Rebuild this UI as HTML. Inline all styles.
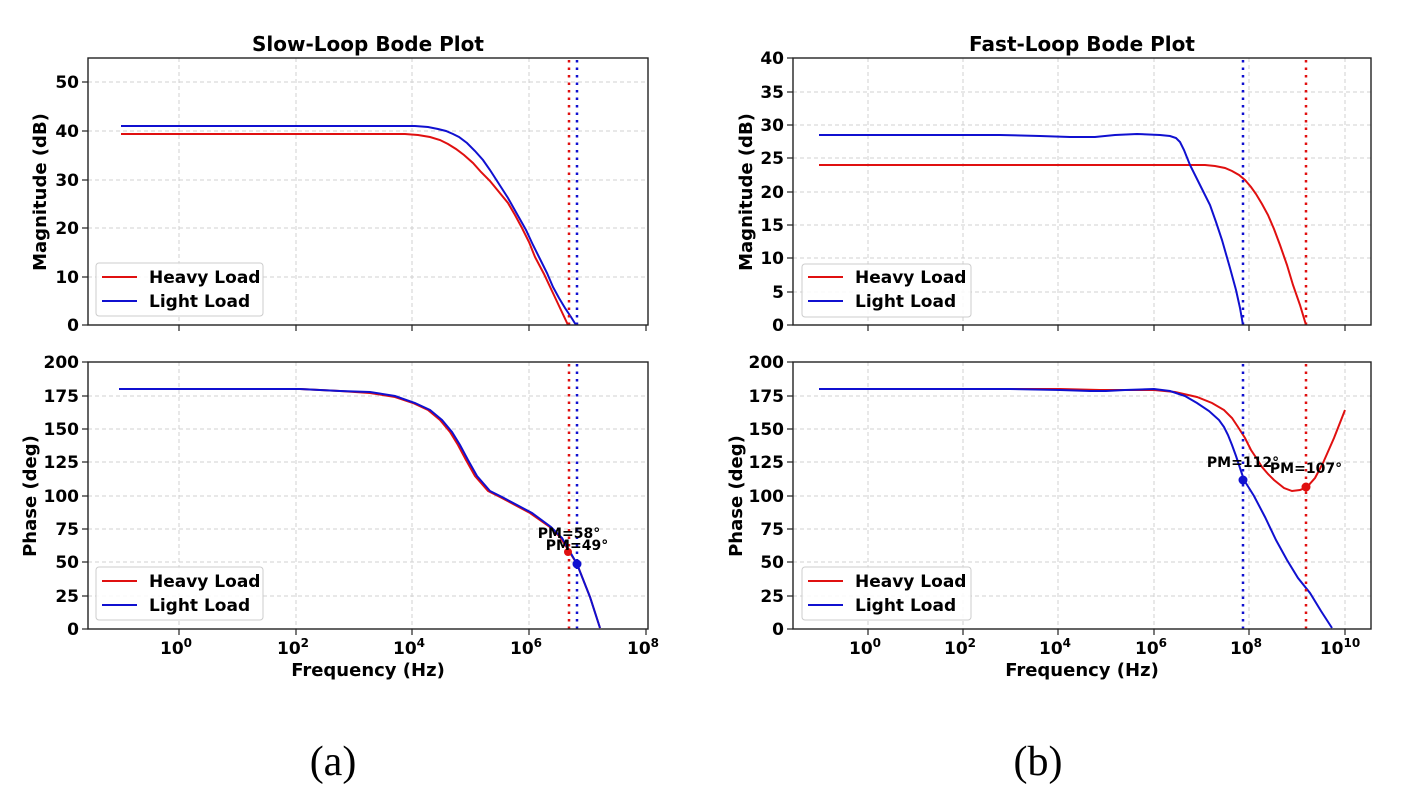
<!DOCTYPE html>
<html><head><meta charset="utf-8"><style>
body{margin:0;background:#fff}
svg{display:block}
text{font-family:"DejaVu Sans","Liberation Sans",sans-serif;font-weight:bold;fill:#000}
.g{stroke:#d0d0d0;stroke-width:1;stroke-dasharray:4,3}
.ax{fill:none;stroke:#222;stroke-width:1.4}
.t{font-size:17px}
.lab{font-size:18px}
</style></head><body>
<svg width="1407" height="805" viewBox="0 0 1407 805" xmlns="http://www.w3.org/2000/svg">
<!-- LEFT TOP -->
<g>
<line class="g" x1="179" y1="58" x2="179" y2="325"/><line class="g" x1="296" y1="58" x2="296" y2="325"/><line class="g" x1="412" y1="58" x2="412" y2="325"/><line class="g" x1="529" y1="58" x2="529" y2="325"/>
<line class="g" x1="88" y1="82" x2="648" y2="82"/><line class="g" x1="88" y1="131" x2="648" y2="131"/><line class="g" x1="88" y1="180" x2="648" y2="180"/><line class="g" x1="88" y1="228" x2="648" y2="228"/><line class="g" x1="88" y1="277" x2="648" y2="277"/>
<polyline fill="none" stroke="#e01010" stroke-width="2" points="121,134 405,134 418,135 430,137 440,140 448,144 456,149 464,155 473,163 481,172 490,181 499,192 508,203 515,215 522,228 529,242 535,257 544,274 552,291 560,308 568,325"/>
<polyline fill="none" stroke="#1010d0" stroke-width="2" points="121,126 415,126 428,127 438,129 446,131 453,134 459,137 467,143 475,151 483,160 490,170 499,184 508,198 517,214 526,230 533,245 540,259 547,273 553,287 559,298 565,308 571,317 576,325"/>
<line x1="569" y1="60" x2="569" y2="325" stroke="#e01010" stroke-width="2.5" stroke-dasharray="2.5,5"/>
<line x1="577" y1="60" x2="577" y2="325" stroke="#1010d0" stroke-width="2.5" stroke-dasharray="2.5,5"/>
<rect class="ax" x="88" y="58" width="560" height="267"/>
<g stroke="#222" stroke-width="1.2"><line x1="179" y1="325" x2="179" y2="331"/><line x1="296" y1="325" x2="296" y2="331"/><line x1="412" y1="325" x2="412" y2="331"/><line x1="529" y1="325" x2="529" y2="331"/><line x1="646" y1="325" x2="646" y2="331"/>
<line x1="82" y1="325" x2="88" y2="325"/><line x1="82" y1="277" x2="88" y2="277"/><line x1="82" y1="228" x2="88" y2="228"/><line x1="82" y1="180" x2="88" y2="180"/><line x1="82" y1="131" x2="88" y2="131"/><line x1="82" y1="82" x2="88" y2="82"/></g>
<g class="t" text-anchor="end"><text x="79" y="331">0</text><text x="79" y="283">10</text><text x="79" y="234">20</text><text x="79" y="186">30</text><text x="79" y="137">40</text><text x="79" y="88">50</text></g>
<text class="lab" transform="translate(46,192) rotate(-90)" text-anchor="middle">Magnitude (dB)</text>
<text x="368" y="51" text-anchor="middle" font-size="20">Slow-Loop Bode Plot</text>
<rect x="96" y="263" width="167" height="53" rx="3" fill="#fff" fill-opacity="0.85" stroke="#ccc"/>
<line x1="102" y1="277" x2="137" y2="277" stroke="#e01010" stroke-width="2"/><line x1="102" y1="301" x2="137" y2="301" stroke="#1010d0" stroke-width="2"/>
<text class="t" x="149" y="283">Heavy Load</text><text class="t" x="149" y="307">Light Load</text>
</g>
<!-- LEFT BOTTOM -->
<g>
<line class="g" x1="179" y1="362" x2="179" y2="629"/><line class="g" x1="296" y1="362" x2="296" y2="629"/><line class="g" x1="412" y1="362" x2="412" y2="629"/><line class="g" x1="529" y1="362" x2="529" y2="629"/>
<line class="g" x1="88" y1="396" x2="648" y2="396"/><line class="g" x1="88" y1="429" x2="648" y2="429"/><line class="g" x1="88" y1="462" x2="648" y2="462"/><line class="g" x1="88" y1="496" x2="648" y2="496"/><line class="g" x1="88" y1="529" x2="648" y2="529"/><line class="g" x1="88" y1="562" x2="648" y2="562"/><line class="g" x1="88" y1="596" x2="648" y2="596"/>
<polyline fill="none" stroke="#e01010" stroke-width="2" points="119,389 300,389 340,391 370,393 395,397 413,403 428,410 440,420 450,432 458,445 466,460 475,476 488,491 500,497 515,505 530,513 550,527 560,537 567,548 577,564 590,597 600,628"/>
<polyline fill="none" stroke="#1010d0" stroke-width="2" points="119,389 300,389 340,391 370,392 395,396 415,403 430,410 442,420 452,432 460,445 468,460 477,476 490,491 502,497 517,505 532,513 551,527 562,538 569,550 577,564 590,597 600,628"/>
<line x1="569" y1="364" x2="569" y2="629" stroke="#e01010" stroke-width="2.5" stroke-dasharray="2.5,5"/>
<line x1="577" y1="364" x2="577" y2="629" stroke="#1010d0" stroke-width="2.5" stroke-dasharray="2.5,5"/>
<circle cx="568" cy="552" r="4" fill="#e01010"/><circle cx="577" cy="564" r="4.5" fill="#1010d0"/>
<text x="569" y="538" text-anchor="middle" font-size="14">PM=58°</text>
<text x="577" y="550" text-anchor="middle" font-size="14">PM=49°</text>
<rect class="ax" x="88" y="362" width="560" height="267"/>
<g stroke="#222" stroke-width="1.2"><line x1="179" y1="629" x2="179" y2="635"/><line x1="296" y1="629" x2="296" y2="635"/><line x1="412" y1="629" x2="412" y2="635"/><line x1="529" y1="629" x2="529" y2="635"/><line x1="646" y1="629" x2="646" y2="635"/>
<line x1="82" y1="629" x2="88" y2="629"/><line x1="82" y1="596" x2="88" y2="596"/><line x1="82" y1="562" x2="88" y2="562"/><line x1="82" y1="529" x2="88" y2="529"/><line x1="82" y1="496" x2="88" y2="496"/><line x1="82" y1="462" x2="88" y2="462"/><line x1="82" y1="429" x2="88" y2="429"/><line x1="82" y1="396" x2="88" y2="396"/><line x1="82" y1="362" x2="88" y2="362"/></g>
<g class="t" text-anchor="end"><text x="79" y="635">0</text><text x="79" y="602">25</text><text x="79" y="568">50</text><text x="79" y="535">75</text><text x="79" y="502">100</text><text x="79" y="468">125</text><text x="79" y="435">150</text><text x="79" y="402">175</text><text x="79" y="368">200</text></g>
<g class="t" text-anchor="middle"><text x="176" y="654">10<tspan font-size="12" dy="-7">0</tspan></text><text x="293" y="654">10<tspan font-size="12" dy="-7">2</tspan></text><text x="409" y="654">10<tspan font-size="12" dy="-7">4</tspan></text><text x="526" y="654">10<tspan font-size="12" dy="-7">6</tspan></text><text x="643" y="654">10<tspan font-size="12" dy="-7">8</tspan></text></g>
<text class="lab" x="368" y="676" text-anchor="middle">Frequency (Hz)</text>
<text class="lab" transform="translate(36,496) rotate(-90)" text-anchor="middle">Phase (deg)</text>
<rect x="96" y="567" width="167" height="53" rx="3" fill="#fff" fill-opacity="0.85" stroke="#ccc"/>
<line x1="102" y1="581" x2="137" y2="581" stroke="#e01010" stroke-width="2"/><line x1="102" y1="605" x2="137" y2="605" stroke="#1010d0" stroke-width="2"/>
<text class="t" x="149" y="587">Heavy Load</text><text class="t" x="149" y="611">Light Load</text>
</g>
<!-- RIGHT TOP -->
<g>
<line class="g" x1="868" y1="58" x2="868" y2="325"/><line class="g" x1="963" y1="58" x2="963" y2="325"/><line class="g" x1="1058" y1="58" x2="1058" y2="325"/><line class="g" x1="1154" y1="58" x2="1154" y2="325"/><line class="g" x1="1249" y1="58" x2="1249" y2="325"/><line class="g" x1="1345" y1="58" x2="1345" y2="325"/>
<line class="g" x1="793" y1="92" x2="1371" y2="92"/><line class="g" x1="793" y1="125" x2="1371" y2="125"/><line class="g" x1="793" y1="158" x2="1371" y2="158"/><line class="g" x1="793" y1="192" x2="1371" y2="192"/><line class="g" x1="793" y1="225" x2="1371" y2="225"/><line class="g" x1="793" y1="258" x2="1371" y2="258"/><line class="g" x1="793" y1="292" x2="1371" y2="292"/>
<polyline fill="none" stroke="#e01010" stroke-width="2" points="819,165 1190,165 1205,165 1215,166 1225,168 1232,171 1239,175 1245,180 1251,187 1256,194 1262,204 1268,215 1274,229 1280,245 1287,265 1293,285 1300,305 1306,325"/>
<polyline fill="none" stroke="#1010d0" stroke-width="2" points="819,135 1000,135 1040,136 1070,137 1095,137 1115,135 1137,134 1160,135 1170,136 1176,138 1180,142 1184,150 1190,165 1200,185 1210,205 1216,222 1222,240 1230,268 1236,290 1240,308 1243,325"/>
<line x1="1243" y1="60" x2="1243" y2="325" stroke="#1010d0" stroke-width="2.5" stroke-dasharray="2.5,5"/>
<line x1="1306" y1="60" x2="1306" y2="325" stroke="#e01010" stroke-width="2.5" stroke-dasharray="2.5,5"/>
<rect class="ax" x="793" y="58" width="578" height="267"/>
<g stroke="#222" stroke-width="1.2"><line x1="868" y1="325" x2="868" y2="331"/><line x1="963" y1="325" x2="963" y2="331"/><line x1="1058" y1="325" x2="1058" y2="331"/><line x1="1154" y1="325" x2="1154" y2="331"/><line x1="1249" y1="325" x2="1249" y2="331"/><line x1="1345" y1="325" x2="1345" y2="331"/>
<line x1="787" y1="325" x2="793" y2="325"/><line x1="787" y1="292" x2="793" y2="292"/><line x1="787" y1="258" x2="793" y2="258"/><line x1="787" y1="225" x2="793" y2="225"/><line x1="787" y1="192" x2="793" y2="192"/><line x1="787" y1="158" x2="793" y2="158"/><line x1="787" y1="125" x2="793" y2="125"/><line x1="787" y1="92" x2="793" y2="92"/><line x1="787" y1="58" x2="793" y2="58"/></g>
<g class="t" text-anchor="end"><text x="784" y="331">0</text><text x="784" y="298">5</text><text x="784" y="264">10</text><text x="784" y="231">15</text><text x="784" y="198">20</text><text x="784" y="164">25</text><text x="784" y="131">30</text><text x="784" y="98">35</text><text x="784" y="64">40</text></g>
<text class="lab" transform="translate(752,192) rotate(-90)" text-anchor="middle">Magnitude (dB)</text>
<text x="1082" y="51" text-anchor="middle" font-size="20">Fast-Loop Bode Plot</text>
<rect x="802" y="264" width="169" height="53" rx="3" fill="#fff" fill-opacity="0.85" stroke="#ccc"/>
<line x1="808" y1="277" x2="843" y2="277" stroke="#e01010" stroke-width="2"/><line x1="808" y1="301" x2="843" y2="301" stroke="#1010d0" stroke-width="2"/>
<text class="t" x="855" y="283">Heavy Load</text><text class="t" x="855" y="307">Light Load</text>
</g>
<!-- RIGHT BOTTOM -->
<g>
<line class="g" x1="868" y1="362" x2="868" y2="629"/><line class="g" x1="963" y1="362" x2="963" y2="629"/><line class="g" x1="1058" y1="362" x2="1058" y2="629"/><line class="g" x1="1154" y1="362" x2="1154" y2="629"/><line class="g" x1="1249" y1="362" x2="1249" y2="629"/><line class="g" x1="1345" y1="362" x2="1345" y2="629"/>
<line class="g" x1="793" y1="396" x2="1371" y2="396"/><line class="g" x1="793" y1="429" x2="1371" y2="429"/><line class="g" x1="793" y1="462" x2="1371" y2="462"/><line class="g" x1="793" y1="496" x2="1371" y2="496"/><line class="g" x1="793" y1="529" x2="1371" y2="529"/><line class="g" x1="793" y1="562" x2="1371" y2="562"/><line class="g" x1="793" y1="596" x2="1371" y2="596"/>
<polyline fill="none" stroke="#e01010" stroke-width="2" points="819,389 1060,389 1100,390 1154,390 1175,392 1197,397 1212,403 1224,410 1232,418 1238,427 1245,438 1251,450 1257,459 1262,467 1268,474 1274,480 1284,488 1292,491 1300,490 1307,487 1315,478 1323,463 1334,438 1345,410"/>
<polyline fill="none" stroke="#1010d0" stroke-width="2" points="819,389 1010,389 1060,390 1090,391 1106,391 1125,390 1154,389 1170,391 1185,396 1197,403 1209,411 1219,420 1224,427 1228,435 1232,445 1236,456 1240,468 1244,480 1254,496 1265,517 1276,540 1287,560 1298,578 1310,593 1321,611 1332,628"/>
<line x1="1243" y1="364" x2="1243" y2="629" stroke="#1010d0" stroke-width="2.5" stroke-dasharray="2.5,5"/>
<line x1="1306" y1="364" x2="1306" y2="629" stroke="#e01010" stroke-width="2.5" stroke-dasharray="2.5,5"/>
<circle cx="1243" cy="480" r="4.5" fill="#1010d0"/><circle cx="1306" cy="487" r="4.5" fill="#e01010"/>
<text x="1243" y="467" text-anchor="middle" font-size="14">PM=112°</text>
<text x="1306" y="473" text-anchor="middle" font-size="14">PM=107°</text>
<rect class="ax" x="793" y="362" width="578" height="267"/>
<g stroke="#222" stroke-width="1.2"><line x1="868" y1="629" x2="868" y2="635"/><line x1="963" y1="629" x2="963" y2="635"/><line x1="1058" y1="629" x2="1058" y2="635"/><line x1="1154" y1="629" x2="1154" y2="635"/><line x1="1249" y1="629" x2="1249" y2="635"/><line x1="1345" y1="629" x2="1345" y2="635"/>
<line x1="787" y1="629" x2="793" y2="629"/><line x1="787" y1="596" x2="793" y2="596"/><line x1="787" y1="562" x2="793" y2="562"/><line x1="787" y1="529" x2="793" y2="529"/><line x1="787" y1="496" x2="793" y2="496"/><line x1="787" y1="462" x2="793" y2="462"/><line x1="787" y1="429" x2="793" y2="429"/><line x1="787" y1="396" x2="793" y2="396"/><line x1="787" y1="362" x2="793" y2="362"/></g>
<g class="t" text-anchor="end"><text x="784" y="635">0</text><text x="784" y="602">25</text><text x="784" y="568">50</text><text x="784" y="535">75</text><text x="784" y="502">100</text><text x="784" y="468">125</text><text x="784" y="435">150</text><text x="784" y="402">175</text><text x="784" y="368">200</text></g>
<g class="t" text-anchor="middle"><text x="865" y="654">10<tspan font-size="12" dy="-7">0</tspan></text><text x="960" y="654">10<tspan font-size="12" dy="-7">2</tspan></text><text x="1055" y="654">10<tspan font-size="12" dy="-7">4</tspan></text><text x="1151" y="654">10<tspan font-size="12" dy="-7">6</tspan></text><text x="1246" y="654">10<tspan font-size="12" dy="-7">8</tspan></text><text x="1340" y="654">10<tspan font-size="12" dy="-7">10</tspan></text></g>
<text class="lab" x="1082" y="676" text-anchor="middle">Frequency (Hz)</text>
<text class="lab" transform="translate(742,496) rotate(-90)" text-anchor="middle">Phase (deg)</text>
<rect x="802" y="567" width="169" height="53" rx="3" fill="#fff" fill-opacity="0.85" stroke="#ccc"/>
<line x1="808" y1="581" x2="843" y2="581" stroke="#e01010" stroke-width="2"/><line x1="808" y1="605" x2="843" y2="605" stroke="#1010d0" stroke-width="2"/>
<text class="t" x="855" y="587">Heavy Load</text><text class="t" x="855" y="611">Light Load</text>
</g>
<text x="333" y="775" text-anchor="middle" font-size="42" style="font-family:'Liberation Serif',serif;font-weight:normal">(a)</text>
<text x="1038" y="775" text-anchor="middle" font-size="42" style="font-family:'Liberation Serif',serif;font-weight:normal">(b)</text>
</svg>
</body></html>
